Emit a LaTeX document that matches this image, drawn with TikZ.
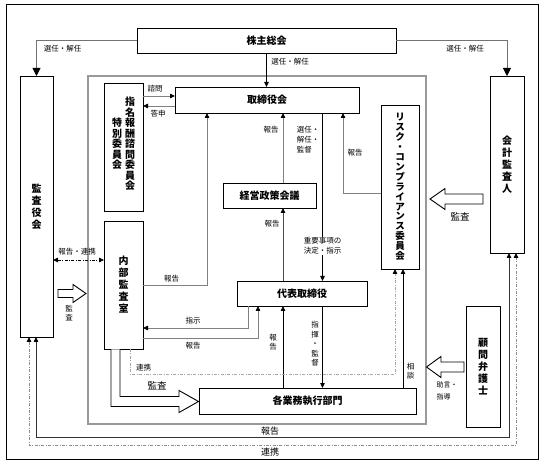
\documentclass[tikz,border=0pt]{standalone}
\usepackage{fontspec}
\setmainfont{Noto Sans CJK JP}
\usetikzlibrary{arrows.meta}
\begin{document}
\begin{tikzpicture}[x=1pt,y=-1pt,
  box/.style={draw,line width=0.9pt,inner sep=0pt,outer sep=0pt,align=center,font=\bfseries\fontsize{10}{12}\selectfont},
  vtxt/.style={inner sep=0pt,align=center,font=\bfseries\fontsize{10}{12}\selectfont},
  lbl/.style={inner sep=0.5pt,font=\fontsize{7.5}{10}\selectfont,align=left},
  vlbl/.style={inner sep=0.5pt,font=\fontsize{7.5}{9.5}\selectfont,align=center},
  arr/.style={-{Triangle[width=4.5pt,length=5pt,color=black]},line width=0.8pt},
  darr/.style={{Triangle[width=4.5pt,length=5pt,color=black]}-{Triangle[width=4.5pt,length=5pt,color=black]},line width=0.8pt},
  garr/.style={arr,draw=black!50},
  bigarr/.style={-{Triangle[width=8pt,length=8pt,color=black]},line width=0.8pt,draw=black!55},
  dashdot/.style={dash pattern=on 3pt off 1.5pt on 0.8pt off 1.5pt},
  blockarr/.style={draw,line width=0.9pt,fill=white,line join=miter}
]
\useasboundingbox (0,0) rectangle (544,465);
% frames
\draw[line width=1pt] (6,5) rectangle (538,459);
\draw[line width=1.5pt,draw=black!40] (88,76) rectangle (426,424);

% helper coordinates
\coordinate (y96) at (0,96);
\coordinate (y106) at (0,106);
\coordinate (y193) at (0,193);
\coordinate (y260) at (0,260);
\coordinate (y285) at (0,285);
\coordinate (y328) at (0,328);
\coordinate (y338) at (0,338);
\coordinate (y374) at (0,374);
\coordinate (y437) at (0,437);
\coordinate (y445) at (0,445);
\coordinate (x29) at (29,0);
\coordinate (x36) at (36,0);
\coordinate (x130) at (130,0);
\coordinate (x207) at (207,0);
\coordinate (x248) at (248,0);
\coordinate (x258) at (258,0);
\coordinate (x283) at (283,0);
\coordinate (x322) at (322.5,0);
\coordinate (x343) at (343,0);
\coordinate (x395) at (395,0);
\coordinate (x403) at (403,0);
\coordinate (x509) at (509,0);
\coordinate (x516) at (516,0);

% boxes
\node[box,minimum width=259pt,minimum height=25pt] (kabu) at (266.5,40.5) {株主総会};
\node[box,minimum width=33pt,minimum height=261pt] (kansayaku) at (36.5,206.5) {監\\査\\役\\会};
\node[box,minimum width=34pt,minimum height=177pt] (kaikei) at (507,164.5) {会\\計\\監\\査\\人};
\node[box,minimum width=184pt,minimum height=26pt] (tori) at (267,100) {取締役会};
\node[box,minimum width=39pt,minimum height=128pt] (shimei) at (123.5,147) {};
\node[vtxt,font=\bfseries\fontsize{10}{10.5}\selectfont] (shimeiA) at (130,144) {指\\名\\報\\酬\\諮\\問\\委\\員\\会};
\node[vtxt,font=\bfseries\fontsize{10}{10.5}\selectfont] (shimeiB) at (117,144) {特\\別\\委\\員\\会};
\node[box,minimum width=39pt,minimum height=128pt] (naibu) at (123.5,285) {内\\部\\監\\査\\室};
\node[box,minimum width=93pt,minimum height=25pt] (keiei) at (269.5,195.5) {経営政策会議};
\node[box,minimum width=38pt,minimum height=164pt,font=\bfseries\fontsize{9.5}{9.9}\selectfont] (risk) at (400,187) {リ\\ス\\ク\\・\\コ\\ン\\プ\\ラ\\イ\\ア\\ン\\ス\\委\\員\\会};
\node[box,minimum width=130pt,minimum height=25pt] (daihyo) at (302,293.5) {代表取締役};
\node[box,minimum width=217pt,minimum height=26pt] (kakugyo) at (307.5,401) {各業務執行部門};
\node[box,minimum width=34pt,minimum height=121pt] (komon) at (483,366.5) {顧\\問\\弁\\護\\士};

% shareholders
\draw[bigarr] (kabu.west) -| (kansayaku.north);
\draw[bigarr] (kabu.east) -| (kaikei.north);
\draw[arr] (kabu.south) -- (kabu.south |- tori.north);
\node[lbl] (l1) at (62.5,48.5) {選任・解任};
\node[lbl] (l2) at (465,48.5) {選任・解任};
\node[lbl] (l3) at (290,61.5) {選任・解任};

% nomination committee
\draw[garr] (shimei.east |- y96) -- (tori.west |- y96);
\draw[garr] (tori.west |- y106) -- (shimei.east |- y106);
\node[lbl] (l4) at (155,89) {諮問};
\node[lbl] (l5) at (158,114) {答申};

% internal audit -> board
\draw[garr] (naibu.east |- y285) -| (x207 |- tori.south);
\node[lbl] (l6) at (171.5,278.5) {報告};

% management council -> board
\draw[garr] (x283 |- keiei.north) -- (x283 |- tori.south);
\node[lbl] (l7) at (271,130) {報告};

% board -> representative director
\draw[arr] (x322 |- tori.south) -- (x322 |- daihyo.north);
\node[lbl,align=left,font=\fontsize{7.5}{10}\selectfont] (l8) at (308,140) {選任・\\解任・\\監督};
\node[lbl,fill=white,align=left,font=\fontsize{7.5}{10}\selectfont,inner sep=1pt] (l9) at (322.5,246) {重要事項の\\決定・指示};

% risk -> board
\draw[garr] (risk.west |- y193) -| (x343 |- tori.south);
\node[lbl] (l10) at (355,153) {報告};

% representative -> council
\draw[arr,draw=black!70] (x283 |- daihyo.north) -- (x283 |- keiei.south);
\node[lbl] (l11) at (272,224) {報告};

% representative <-> internal audit
\draw[garr] (x248 |- daihyo.south) |- (naibu.east |- y328);
\draw[garr] (naibu.east |- y338) -| (x258 |- daihyo.south);
\node[lbl] (l12) at (193,321) {指示};
\node[lbl] (l13) at (193,345.5) {報告};

% departments <-> representative
\draw[arr] (x283 |- kakugyo.north) -- (x283 |- daihyo.south);
\node[vlbl] (l14) at (273,342) {報\\告};
\draw[arr] (x322 |- daihyo.south) -- (x322 |- kakugyo.north);
\node[vlbl] (l15) at (315,344) {指\\揮\\・\\監\\督};

% consultation & cooperation to risk
\draw[arr] (x403 |- kakugyo.north) -- (x403 |- risk.south);
\node[vlbl] (l16) at (410.5,371) {相\\談};
\draw[arr,draw=black!35,dashdot] (x130 |- naibu.south) |- (x395 |- y374) -- (x395 |- risk.south);
\node[lbl] (l17) at (143.5,368) {連携};

% left 報告・連携
\draw[darr,dashdot] (kansayaku.east |- y260) -- (naibu.west |- y260);
\node[lbl] (l18) at (77,251.5) {報告・連携};

% bottom lines
\draw[darr,draw=black!80] (x36 |- kansayaku.south) |- (x509 |- y437) -- (x509 |- kaikei.south);
\node[lbl,font=\fontsize{9}{10}\selectfont] (l19) at (270,431.5) {報告};
\draw[darr,draw=black!45,dashdot] (x29 |- kansayaku.south) |- (x516 |- y445) -- (x516 |- kaikei.south);
\node[lbl,font=\fontsize{9}{10}\selectfont] (l20) at (270,452) {連携};

% block arrows
\draw[blockarr] (58,289.5) -- (73,289.5) -- (73,284.5) -- (86,293.5) -- (73,302.5) -- (73,297.5) -- (58,297.5) -- cycle;
\node[vlbl] (l21) at (69,313) {監\\査};

\draw[blockarr] (483,194) -- (445,194) -- (445,188.5) -- (430,199) -- (445,209.5) -- (445,204) -- (483,204) -- cycle;
\node[lbl,font=\fontsize{9.5}{10}\selectfont] (l22) at (460,217) {監査};

\draw[blockarr] (464,362) -- (441,362) -- (441,356.5) -- (426.5,367) -- (441,377.5) -- (441,372) -- (464,372) -- cycle;
\node[lbl,font=\fontsize{7}{11.5}\selectfont] (l23) at (447,391) {助言・\\指導};

\draw[blockarr] (111,349.5) -- (111,406.5) -- (179,406.5) -- (179,412.5) -- (198.5,401.5) -- (179,390.5) -- (179,396.5) -- (120,396.5) -- (120,349.5);
\node[lbl,font=\fontsize{9.5}{10}\selectfont] (l24) at (157,386) {監査};
\end{tikzpicture}
\end{document}
